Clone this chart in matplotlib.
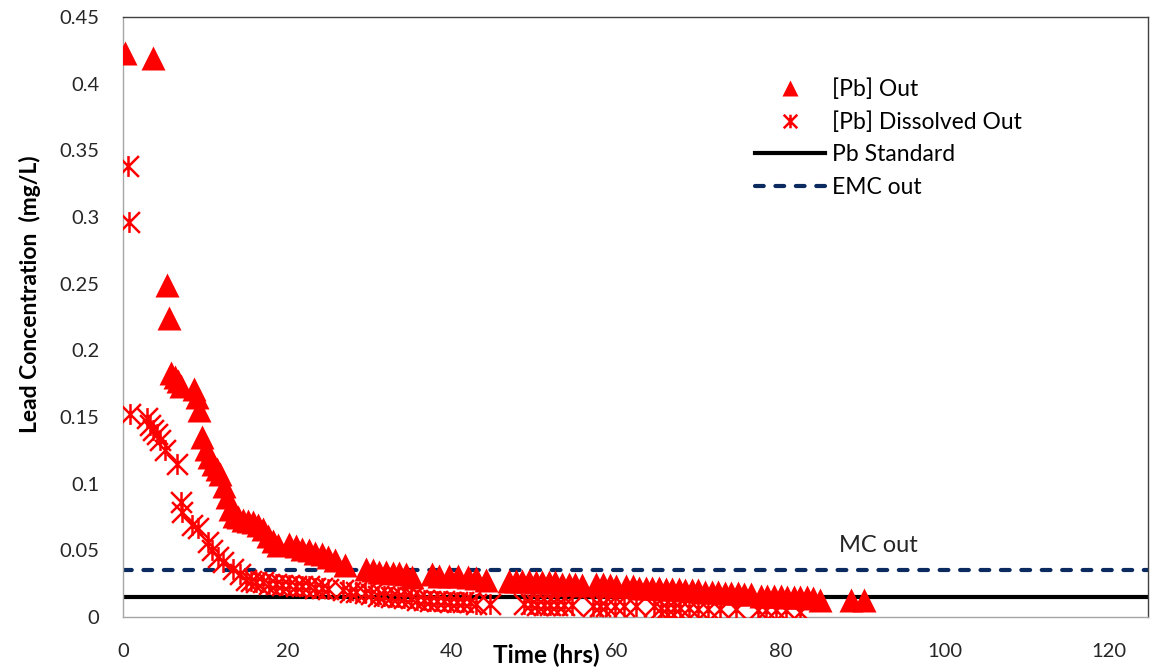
import numpy as np
import matplotlib
matplotlib.use("Agg")
import matplotlib.pyplot as plt
from matplotlib.path import Path

plt.rcParams['font.family'] = ['Lato', 'DejaVu Sans']

# [Pb] Out (triangles)
pb_out_t = [0.2, 3.6, 5.3, 5.6, 5.9, 6.3, 6.7, 7.1, 8.6, 9.0, 9.2, 9.6, 10.1, 10.5, 10.9,
            11.4, 11.8, 12.3, 12.7, 13.0, 13.5, 14.0, 14.6, 15.2, 15.8, 16.4, 17.0, 17.6,
            18.2, 18.8, 20.2, 21.0, 21.8, 22.6, 23.4, 24.2, 25.0, 25.8, 27.0, 29.6, 30.4,
            31.2, 32.0, 32.8, 33.6, 34.4, 35.2, 37.6, 38.4, 39.6, 40.8, 42.0, 43.0, 44.2,
            47.0, 47.8, 48.6, 49.4, 50.2, 51.0, 51.8, 52.6, 53.4, 54.2, 55.0, 55.8, 57.6,
            58.4, 59.2, 60.0, 61.2, 62.0, 62.8, 63.6, 64.4, 65.2, 66.0, 66.8, 67.6, 68.4,
            69.2, 70.0, 70.8, 71.6, 72.4, 73.2, 74.0, 74.8, 75.6, 76.4, 77.6, 78.4, 79.2,
            80.0, 80.8, 81.6, 82.4, 83.2, 84.0, 84.8, 88.6, 90.2]
pb_out_c = [0.423, 0.419, 0.249, 0.224, 0.183, 0.180, 0.177, 0.173, 0.171, 0.165, 0.155,
            0.135, 0.126, 0.120, 0.115, 0.111, 0.107, 0.098, 0.090, 0.081, 0.076, 0.075,
            0.073, 0.072, 0.071, 0.069, 0.066, 0.061, 0.057, 0.054, 0.055, 0.053, 0.051,
            0.050, 0.048, 0.047, 0.045, 0.043, 0.039, 0.036, 0.035, 0.034, 0.034, 0.033,
            0.033, 0.032, 0.030, 0.032, 0.031, 0.031, 0.031, 0.030, 0.029, 0.028, 0.027,
            0.027, 0.027, 0.027, 0.026, 0.026, 0.026, 0.026, 0.025, 0.025, 0.025, 0.024,
            0.025, 0.025, 0.024, 0.023, 0.023, 0.023, 0.022, 0.022, 0.022, 0.022, 0.021,
            0.021, 0.021, 0.020, 0.020, 0.020, 0.019, 0.019, 0.019, 0.018, 0.018, 0.018,
            0.017, 0.017, 0.016, 0.016, 0.016, 0.016, 0.015, 0.015, 0.015, 0.015, 0.014,
            0.013, 0.013, 0.013]

# [Pb] Dissolved Out (asterisks)
pb_diss_t = [0.6, 0.7, 0.9, 2.9, 3.3, 3.7, 4.1, 4.5, 5.1, 6.6, 7.0, 7.2, 8.4, 9.1, 10.3,
             10.8, 11.6, 12.2, 13.4, 14.2, 15.0, 15.6, 16.2, 17.0, 17.8, 18.6, 19.4, 20.2,
             21.0, 21.8, 22.6, 23.4, 24.2, 25.0, 26.8, 27.6, 28.4, 29.4, 30.2, 31.0, 31.8,
             32.6, 33.4, 34.2, 35.0, 35.8, 36.6, 37.4, 38.2, 39.0, 39.8, 40.6, 41.4, 42.2,
             43.0, 44.6, 48.8, 49.6, 50.4, 51.2, 52.0, 52.8, 53.6, 54.6, 57.2, 58.0, 58.8,
             59.8, 61.0, 62.4, 64.6, 65.4, 66.2, 67.0, 67.8, 68.8, 70.0, 71.2, 72.6, 74.6,
             77.2, 78.2, 79.4, 80.6, 82.4]
pb_diss_c = [0.338, 0.296, 0.152, 0.149, 0.144, 0.140, 0.137, 0.133, 0.125, 0.115, 0.086,
             0.079, 0.069, 0.067, 0.056, 0.050, 0.045, 0.041, 0.036, 0.032, 0.028, 0.027,
             0.026, 0.026, 0.025, 0.025, 0.024, 0.024, 0.023, 0.023, 0.023, 0.022, 0.022,
             0.021, 0.020, 0.019, 0.019, 0.018, 0.017, 0.016, 0.016, 0.015, 0.015, 0.014,
             0.014, 0.013, 0.013, 0.012, 0.012, 0.012, 0.011, 0.011, 0.011, 0.011, 0.010,
             0.010, 0.010, 0.010, 0.009, 0.009, 0.009, 0.009, 0.009, 0.009, 0.008, 0.008,
             0.008, 0.008, 0.008, 0.008, 0.008, 0.007, 0.007, 0.007, 0.007, 0.007, 0.006,
             0.006, 0.006, 0.006, 0.005, 0.005, 0.005, 0.005, 0.004]

pb_standard = 0.015
emc_out = 0.035

x_ticks = [0, 20, 40, 60, 80, 100, 120]
y_ticks = [0, 0.05, 0.1, 0.15, 0.2, 0.25, 0.3, 0.35, 0.4, 0.45]
y_tick_labels = ['0', '0.05', '0.1', '0.15', '0.2', '0.25', '0.3', '0.35', '0.4', '0.45']

# excel style star marker: vertical bar plus an X
star = Path([(0, -1), (0, 1), (-1, -1), (1, 1), (-1, 1), (1, -1)],
            [Path.MOVETO, Path.LINETO, Path.MOVETO, Path.LINETO, Path.MOVETO, Path.LINETO])

fig = plt.figure(figsize=(11.5, 6.7), dpi=100)
ax = fig.add_axes([123/1150, 53/670, 1025/1150, 600/670])

ax.axhline(pb_standard, color='black', lw=3, zorder=1, label='Pb Standard')
ax.axhline(emc_out, color='#0b2a60', lw=3, ls=(0, (2.1, 2.8)), dash_capstyle='round',
           zorder=1, label='EMC out')

ax.plot(pb_out_t, pb_out_c, ls='none', marker='^', ms=17, color='red', mec='none',
        zorder=3, label='[Pb] Out')
ax.plot(pb_diss_t, pb_diss_c, ls='none', marker=star, ms=15, mfc='none', mec='red',
        mew=1.8, zorder=3, label='[Pb] Dissolved Out')

ax.set_xlim(0, 124.7)
ax.set_ylim(0, 0.45)
ax.set_xticks(x_ticks)
ax.set_yticks(y_ticks)
ax.set_yticklabels(y_tick_labels)
ax.tick_params(length=0, labelsize=14.5, colors='#262626')
ax.tick_params(axis='y', pad=17)
ax.tick_params(axis='x', pad=19)

for s in ['left', 'bottom']:
    ax.spines[s].set_color('#a6a6a6')
for s in ['top', 'right']:
    ax.spines[s].set_color('#404040')
for s in ax.spines.values():
    s.set_linewidth(1)

ax.set_xlabel('Time (hrs)', fontsize=17.5, fontweight='bold')
ax.xaxis.set_label_coords(0.413, -0.063)
ax.xaxis.label.set_va('center')
fig.text(30/1150, 1 - 294/670, 'Lead Concentration  (mg/L)', rotation=90, fontsize=16.5,
         fontweight='bold', ha='center', va='center')

ax.text((878-123)/1025, (617-545)/600, 'MC out', fontsize=17, color='#262626',
        ha='center', va='center', transform=ax.transAxes)

h, l = ax.get_legend_handles_labels()
order = [2, 3, 0, 1]
ax.legend([h[i] for i in order], [l[i] for i in order], loc='upper left',
          bbox_to_anchor=(755/1150, 1 - 78/670), bbox_transform=fig.transFigure,
          frameon=False, fontsize=16.5, markerscale=0.65, handlelength=3.05,
          handletextpad=0.3, labelspacing=0.5, borderpad=0, borderaxespad=0)

fig.savefig('out.png', dpi=100)
